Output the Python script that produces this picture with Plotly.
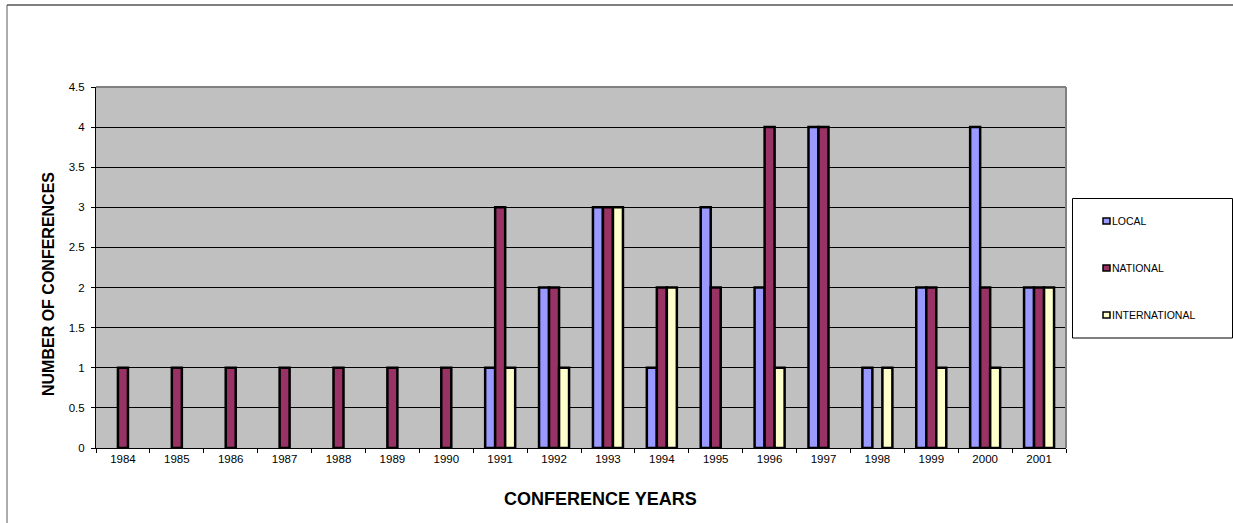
import plotly.graph_objects as go

# Conference counts per year, by level
years = [str(y) for y in range(1984, 2002)]
series_names = ["LOCAL", "NATIONAL", "INTERNATIONAL"]
local = [0, 0, 0, 0, 0, 0, 0, 1, 2, 3, 1, 3, 2, 4, 1, 2, 4, 2]
national = [1, 1, 1, 1, 1, 1, 1, 3, 2, 3, 2, 2, 4, 4, 0, 2, 2, 2]
international = [0, 0, 0, 0, 0, 0, 0, 1, 1, 3, 2, 0, 1, 0, 1, 1, 1, 2]
series_colors = ["#9999FF", "#993366", "#FFFFCC"]

W, H = 1233, 523
PL, PR, PT, PB = 96, 1066, 87, 448  # plot area edges in pixels

def fx(px):
    return (px - PL) / (PR - PL)

def fy(py):
    return (PB - py) / (PB - PT)

FONT = "Liberation Sans, Arial, sans-serif"

fig = go.Figure()
for name, vals, col in zip(series_names, [local, national, international], series_colors):
    # zero counts keep their slot in the group but draw nothing
    fig.add_trace(go.Bar(
        x=years, y=[v if v else None for v in vals], name=name,
        marker=dict(color=col, line=dict(color="black", width=2.5)),
    ))

shapes = [
    # plot-area frame (top / right)
    dict(type="line", xref="paper", yref="paper", x0=0, x1=1, y0=1, y1=1,
         line=dict(color="#808080", width=2)),
    dict(type="line", xref="paper", yref="paper", x0=1, x1=1, y0=0, y1=1,
         line=dict(color="#808080", width=2)),
    # chart frame
    dict(type="line", xref="paper", yref="paper", x0=fx(7), x1=fx(1240), y0=fy(5), y1=fy(5),
         line=dict(color="#7f7f7f", width=2)),
    dict(type="line", xref="paper", yref="paper", x0=fx(7), x1=fx(7), y0=fy(5), y1=fy(530),
         line=dict(color="#5a5a5a", width=1)),
    # legend box
    dict(type="rect", xref="paper", yref="paper", x0=fx(1072.5), x1=fx(1232.5),
         y0=fy(338), y1=fy(198.5), line=dict(color="black", width=1), fillcolor="white"),
]

annotations = [
    dict(text="<b>CONFERENCE YEARS</b>", xref="paper", yref="paper",
         x=fx(600), y=fy(499), xanchor="center", yanchor="middle", showarrow=False,
         font=dict(family=FONT, size=18, color="black")),
    dict(text="<b>NUMBER OF CONFERENCES</b>", xref="paper", yref="paper",
         x=fx(48), y=fy(284), xanchor="center", yanchor="middle", showarrow=False,
         textangle=-90, font=dict(family=FONT, size=16, color="black")),
]

# legend entries
row_y = [221, 268, 315]
for name, col, ry in zip(series_names, series_colors, row_y):
    shapes.append(dict(type="rect", xref="paper", yref="paper",
                       x0=fx(1103), x1=fx(1110), y0=fy(ry + 3), y1=fy(ry - 3),
                       line=dict(color="black", width=1.5), fillcolor=col))
    annotations.append(dict(text=name, xref="paper", yref="paper",
                            x=fx(1110), y=fy(ry), xanchor="left", yanchor="middle",
                            showarrow=False,
                            font=dict(family=FONT, size=10.5, color="black")))

fig.update_layout(
    width=W, height=H,
    margin=dict(l=PL, r=W - PR, t=PT, b=H - PB, pad=0),
    paper_bgcolor="white",
    plot_bgcolor="#C0C0C0",
    barmode="group",
    bargap=0.443,
    bargroupgap=0,
    showlegend=False,
    shapes=shapes,
    annotations=annotations,
    font=dict(family=FONT, size=11, color="black"),
)

fig.update_xaxes(
    type="category",
    showline=True, linecolor="black", linewidth=1,
    ticks="outside", tickson="boundaries", ticklen=4, tickcolor="black",
    showgrid=False, zeroline=False, automargin=False,
    tickfont=dict(family=FONT, size=11.5, color="black"),
)
fig.update_yaxes(
    range=[0, 4.5], dtick=0.5,
    showline=True, linecolor="black", linewidth=1,
    ticks="outside", ticklen=4, tickcolor="black",
    showgrid=True, gridcolor="black", gridwidth=1,
    zeroline=False, automargin=False,
    ticklabelstandoff=4,
    tickfont=dict(family=FONT, size=11.5, color="black"),
)

fig.write_html("out.html")
